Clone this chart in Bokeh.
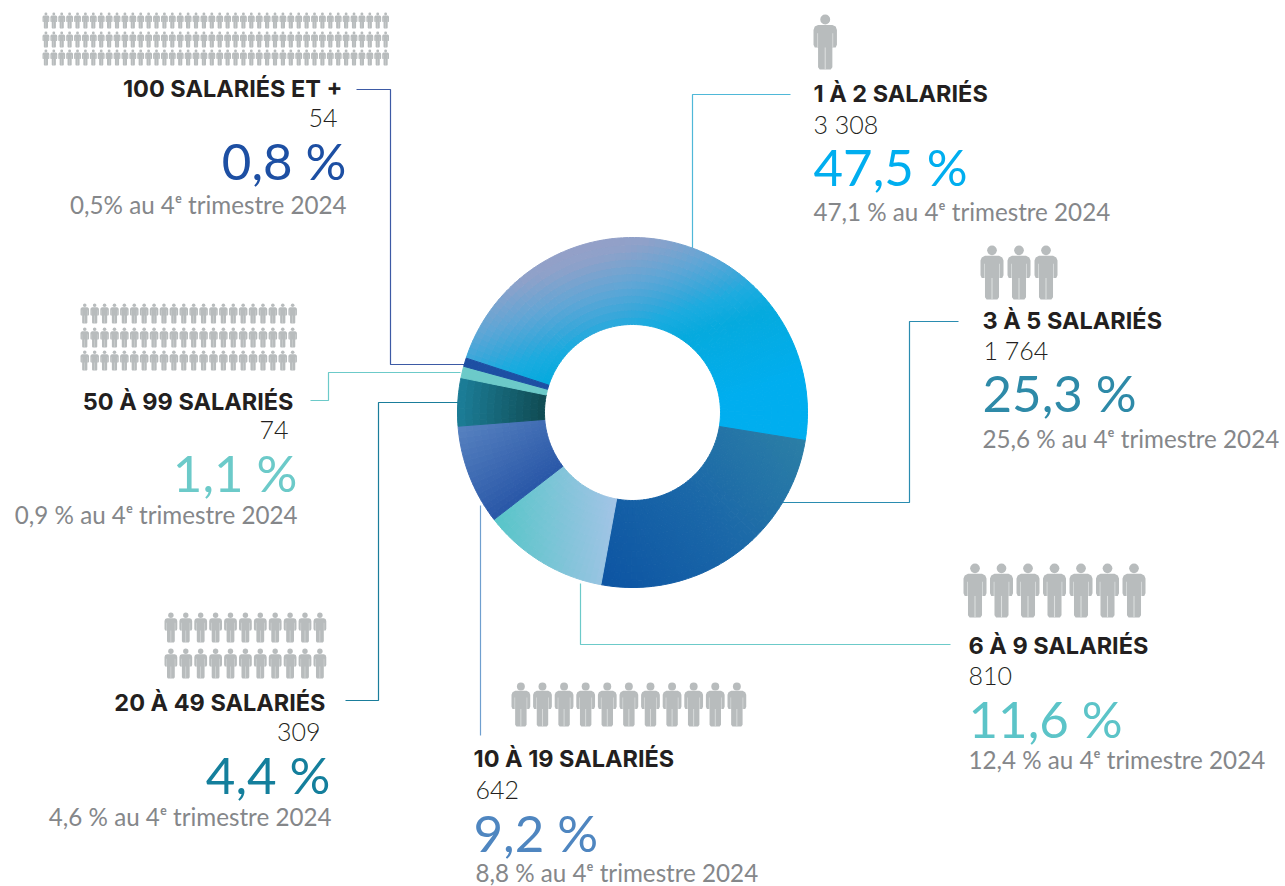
import math
from bokeh.plotting import figure
from bokeh.models import Range1d
from bokeh.core.properties import value
from bokeh.embed import file_html
from bokeh.resources import INLINE

# ---------- data ----------
categories = ["1 À 2 SALARIÉS", "3 À 5 SALARIÉS", "6 À 9 SALARIÉS", "10 À 19 SALARIÉS",
              "20 À 49 SALARIÉS", "50 À 99 SALARIÉS", "100 SALARIÉS ET +"]
counts = [3308, 1764, 810, 642, 309, 74, 54]
count_labels = ["3 308", "1 764", "810", "642", "309", "74", "54"]
pct_labels = ["47,5 %", "25,3 %", "11,6 %", "9,2 %", "4,4 %", "1,1 %", "0,8 %"]
prev_labels = ["47,1 % au 4ᵉ trimestre 2024", "25,6 % au 4ᵉ trimestre 2024", "12,4 % au 4ᵉ trimestre 2024",
               "8,8 % au 4ᵉ trimestre 2024", "4,6 % au 4ᵉ trimestre 2024", "0,9 % au 4ᵉ trimestre 2024",
               "0,5% au 4ᵉ trimestre 2024"]
icon_cols = [1, 3, 7, 11, 11, 22, 44]
icon_rows = [1, 1, 1, 1, 2, 3, 3]

# ---------- style ----------
CX, CY, R_OUT, R_IN = 632, 412, 175, 88
START = -71.9
pct_colors = ["#00aeef", "#2e8aa8", "#5cc4c8", "#4f86c0", "#147f9c", "#6ccac9", "#1d4fa3"]
line_colors = ["#4fb8d8", "#2a8cb0", "#6ccac9", "#6f9fcf", "#1a7d9b", "#6ccac9", "#3d5aa5"]
gradients = [
    ((0.3, 0.954), [(0, "#93a0c8"), (0.05, "#8fa1c9"), (0.2, "#5fa6d6"), (0.3, "#38a7da"),
                    (0.364, "#1cabdf"), (0.47, "#05aade"), (0.76, "#00aeef"), (1, "#00aeef")]),
    ((0.75, -0.65), [(0, "#0d55a3"), (0.5, "#1a67a8"), (1, "#2b7ea6")]),
    ((1, -0.05), [(0, "#59c5c9"), (1, "#a2c4e6")]),
    ((0.6, 0.8), [(0, "#5580bf"), (1, "#2a58a8")]),
    ((1, 0.1), [(0, "#1b7c96"), (1, "#104c54")]),
    ((1, 0), [(0, "#6ccac9"), (1, "#6ccac9")]),
    ((1, 0), [(0, "#1d4fa3"), (1, "#1d4fa3")]),
]
connectors = [
    ([692, 692, 790], [248, 94, 94]),
    ([780, 909, 909, 958], [502, 502, 321, 321]),
    ([580, 580, 950], [583, 644, 644]),
    ([480, 480], [505, 735]),
    ([458, 378, 378, 345], [402, 402, 700, 700]),
    ([460, 328, 328, 310], [372, 372, 400, 400]),
    ([465, 390, 390, 356], [364, 364, 89, 89]),
]
# text anchor: align, x for the four rows, baseline for the four rows
text_layout = [
    ("left", (813, 813, 813, 813), (103, 134, 187, 221)),
    ("left", (982, 983, 982, 982), (330, 360, 413, 448)),
    ("left", (968, 968, 968, 968), (655, 686, 739, 769)),
    ("left", (473, 475, 473, 475), (768, 800, 853, 882)),
    ("right", (325, 320, 330, 331), (712, 742, 795, 826)),
    ("right", (293, 288, 297, 297), (411, 440, 493, 524)),
    ("right", (342, 337, 346, 346), (98, 128, 181, 214)),
]
# icons: left x, pitch, icon height, first y of every row
icon_layout = [
    (813, 27, 55, [14]),
    (980, 27, 54, [245]),
    (963, 26.5, 54, [563]),
    (511, 21.6, 44, [682]),
    (164, 14.9, 30, [612, 648]),
    (80, 9.9, 20, [303, 327, 350]),
    (42, 7.9, 16, [12, 31, 49]),
]
GREY, SLIT = "#b8bcbd", "#dcdfdf"
BODY = [(-.13, .19), (.13, .19), (.19, .22), (.213, .28), (.213, .55), (.19, .6), (.13, .6),
        (.13, .96), (.1, 1), (-.1, 1), (-.13, .96), (-.13, .6), (-.19, .6), (-.213, .55),
        (-.213, .28), (-.19, .22)]
SLITS = [
    [(-.01, .6), (.01, .6), (.01, 1), (-.01, 1)],
    [(.13, .34), (.145, .34), (.145, .6), (.13, .6)],
    [(-.145, .34), (-.13, .34), (-.13, .6), (-.145, .6)],
]
BASELINE_SHIFT = 0.41   # share of the font size by which the svg text sits lower
rows = [("Inter", "bold", 23.5, "#231f20"), ("Lato Light", "normal", 25, "#231f20"),
        ("Lato", "normal", 51, None), ("Lato", "normal", 24.2, "#85878a")]

# ---------- figure ----------
p = figure(width=1285, height=886, x_range=Range1d(0, 1285), y_range=Range1d(886, 0),
           output_backend="svg", toolbar_location=None, min_border=0)
p.axis.visible = False
p.xgrid.visible = False
p.ygrid.visible = False
p.outline_line_color = None

# connectors
for (xs, ys), c in zip(connectors, line_colors):
    p.line(xs, ys, line_color=c, line_width=1.2)

# donut, drawn from the counts; gradients are emulated with small cells
def hex2rgb(h):
    return tuple(int(h[i:i + 2], 16) for i in (1, 3, 5))

def grad(stops, t):
    for (t0, c0), (t1, c1) in zip(stops, stops[1:]):
        if t <= t1:
            f = (t - t0) / (t1 - t0)
            a, b = hex2rgb(c0), hex2rgb(c1)
            return "#%02x%02x%02x" % tuple(round(a[i] + (b[i] - a[i]) * f) for i in range(3))
    return stops[-1][1]

total = sum(counts)
theta = START
rings = 12
w_in, w_out, w_start, w_end, w_col = [], [], [], [], []
for n, ((dx, dy), stops) in zip(counts, gradients):
    span = n / total * 360
    steps = max(1, round(span / 2))
    cells = []
    for i in range(steps):
        a0 = theta + span * i / steps
        a1 = theta + span * (i + 1) / steps
        am = math.radians((a0 + a1) / 2)
        for j in range(rings):
            r0 = R_IN + (R_OUT - R_IN) * j / rings
            r1 = R_IN + (R_OUT - R_IN) * (j + 1) / rings
            rm = (r0 + r1) / 2
            px, py = rm * math.sin(am), -rm * math.cos(am)
            cells.append((a0, a1, r0, r1, px * dx + py * dy))
    lo, hi = min(c[4] for c in cells), max(c[4] for c in cells)
    for a0, a1, r0, r1, s in cells:
        t = (s - lo) / (hi - lo) if hi > lo else 0
        w_in.append(r0)
        w_out.append(r1)
        w_start.append(math.radians(90 - a1))
        w_end.append(math.radians(90 - a0))
        w_col.append(grad(stops, t))
    theta += span
p.annular_wedge(x=[CX] * len(w_in), y=[CY] * len(w_in), inner_radius=w_in, outer_radius=w_out,
                start_angle=w_start, end_angle=w_end, direction="anticlock",
                fill_color=w_col, line_color=w_col, line_width=1)

# icons
bx, by, ch = [], [], []
hx, hy, hr = [], [], []
for cols, nrows, (x0, pitch, h, ytops) in zip(icon_cols, icon_rows, icon_layout):
    for r in range(nrows):
        for k in range(cols):
            cx = x0 + 0.213 * h + pitch * k
            top = ytops[r]
            bx.append([cx + u * h for u, _ in BODY])
            by.append([top + v * h for _, v in BODY])
            ch.append(GREY)
            for s in SLITS:
                bx.append([cx + u * h for u, _ in s])
                by.append([top + v * h for _, v in s])
                ch.append(SLIT)
            hx.append(cx)
            hy.append(top + 0.09 * h)
            hr.append(0.09 * h)
p.patches(bx, by, fill_color=ch, line_color=None)
p.circle(hx, hy, radius=hr, fill_color=GREY, line_color=None)

# texts
for i, (align, xs, ys) in enumerate(text_layout):
    texts = [categories[i], count_labels[i], pct_labels[i], prev_labels[i]]
    for j, (font, style, size, col) in enumerate(rows):
        p.text(x=[xs[j]], y=[ys[j] - BASELINE_SHIFT * size], text=[texts[j]], text_align=align,
               text_baseline="alphabetic", text_font=value(font), text_font_style=style,
               text_font_size=f"{size}px", text_color=col or pct_colors[i])

open("out.html", "w").write(file_html(p, INLINE))
